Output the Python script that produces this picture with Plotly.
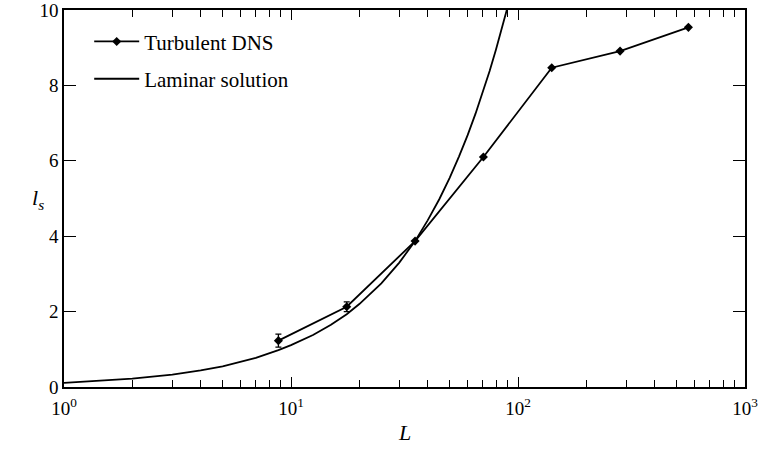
import plotly.graph_objects as go

# Turbulent DNS data
dns_L = [8.8, 17.6, 35.2, 70.4, 140.8, 281.6, 563.2]
dns_ls = [1.23, 2.13, 3.87, 6.10, 8.47, 8.91, 9.54]
dns_err = [0.17, 0.13, 0, 0, 0, 0, 0]

# Laminar solution
lam_L = [1, 1.5, 2, 3, 4, 5, 6, 7, 8.8, 10, 12.5, 15, 17.6, 20, 25, 30, 35.2, 40, 45, 50, 55, 60, 65, 70, 75, 80, 85, 90, 95]
lam_ls = [0.11, 0.165, 0.22, 0.33, 0.44, 0.55, 0.66, 0.77, 0.98, 1.11, 1.38, 1.65, 1.93, 2.2, 2.75, 3.3, 3.87, 4.42, 4.98, 5.55, 6.12, 6.68, 7.25, 7.82, 8.38, 8.95, 9.5, 10.05, 10.6]

x_tickvals = [1, 10, 100, 1000]
x_ticktext = ["10<sup>0</sup>", "10<sup>1</sup>", "10<sup>2</sup>", "10<sup>3</sup>"]
x_minor = [2, 3, 4, 5, 6, 7, 8, 9, 20, 30, 40, 50, 60, 70, 80, 90, 200, 300, 400, 500, 600, 700, 800, 900]
y_tickvals = [0, 2, 4, 6, 8, 10]

font = "Liberation Serif"

fig = go.Figure()
fig.add_trace(go.Scatter(
    x=dns_L, y=dns_ls, mode="lines+markers", name="Turbulent DNS", legendgroup="a",
    line=dict(color="black", width=1.8),
    marker=dict(symbol="diamond", size=7, color="black"),
    error_y=dict(type="data", array=dns_err, visible=True, color="black", thickness=1.3, width=3),
))
fig.add_trace(go.Scatter(
    x=lam_L, y=lam_ls, mode="lines", name="Laminar solution", legendgroup="b",
    line=dict(color="black", width=1.8),
))

fig.update_layout(
    width=758, height=455,
    margin=dict(l=64, r=13, t=10, b=68),
    paper_bgcolor="white", plot_bgcolor="white",
    font=dict(family=font, size=19, color="black"),
    showlegend=True,
    legend=dict(x=0.037, y=0.97, xanchor="left", yanchor="top",
                bgcolor="rgba(0,0,0,0)", font=dict(size=21, family=font),
                itemwidth=45, tracegroupgap=7),
    xaxis=dict(type="log", range=[0, 3], tickmode="array", tickvals=x_tickvals, ticktext=x_ticktext,
               ticks="inside", ticklen=10, tickwidth=1.3, tickcolor="black",
               showline=True, linecolor="black", linewidth=1.5, mirror="ticks",
               showgrid=False, zeroline=False, automargin=False, ticklabeloverflow="allow",
               ticklabelstandoff=3,
               minor=dict(tickmode="array", tickvals=x_minor, ticks="inside", ticklen=7,
                          tickwidth=1.3, tickcolor="black", showgrid=False),
               tickfont=dict(size=19, family=font)),
    yaxis=dict(range=[0, 10], tickmode="array", tickvals=y_tickvals,
               ticks="inside", ticklen=12, tickwidth=1.3, tickcolor="black",
               showline=True, linecolor="black", linewidth=1.5, mirror="ticks",
               showgrid=False, zeroline=False, automargin=False, ticklabeloverflow="allow",
               tickfont=dict(size=19, family=font)),
)

fig.add_annotation(text="<i>L</i>", x=0.5, y=-0.122, xref="paper", yref="paper",
                   xanchor="center", yanchor="middle", showarrow=False,
                   font=dict(size=22, family=font))
fig.add_annotation(text="<i>l<sub>s</sub></i>", x=-0.038, y=0.5, xref="paper", yref="paper",
                   xanchor="center", yanchor="middle", showarrow=False,
                   font=dict(size=22, family=font))

fig.write_html("out.html", config={"displayModeBar": False},
               post_script="document.body.style.margin='0';")
